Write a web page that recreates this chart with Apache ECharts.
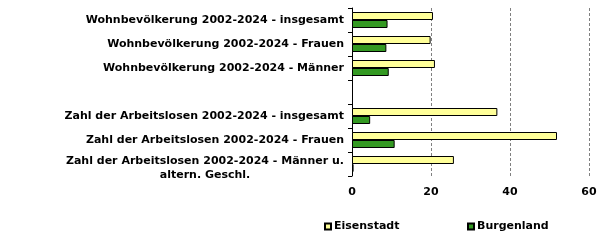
<!DOCTYPE html>
<html>
<head>
<meta charset="utf-8">
<script src="https://cdn.jsdelivr.net/npm/echarts@6/dist/echarts.min.js"></script>
<style>
html,body{margin:0;padding:0;background:#fff;}
#c{width:605px;height:244px;}
</style>
</head>
<body>
<div id="c"></div>
<script>
var categories = [
  'Wohnbevölkerung 2002-2024 - insgesamt',
  'Wohnbevölkerung 2002-2024 - Frauen',
  'Wohnbevölkerung 2002-2024 - Männer',
  '',
  'Zahl der Arbeitslosen 2002-2024 - insgesamt',
  'Zahl der Arbeitslosen 2002-2024 - Frauen',
  'Zahl der Arbeitslosen 2002-2024 - Männer u.\naltern. Geschl.'
];
var eisenstadt = [20.5, 19.9, 21.0, null, 36.8, 51.9, 25.8];
var burgenland = [9.0, 8.7, 9.3, null, 4.6, 10.8, 0.4];
var xTicks = {min: 0, max: 60, interval: 20};

var font = 'DejaVu Sans';
var catData = categories.map(function (c) {
  if (c.indexOf('\n') >= 0) {
    return {value: c, textStyle: {padding: [8, 0, 0, 0]}};
  }
  return c;
});
var chart = echarts.init(document.getElementById('c'), null, {renderer: 'canvas'});
chart.setOption({
  animation: false,
  backgroundColor: '#ffffff',
  textStyle: {fontFamily: font},
  grid: {left: 352, right: 16, top: 8, bottom: 68, containLabel: false},
  legend: [{
    data: ['Eisenstadt'], left: 319, top: 216, itemWidth: 6, itemHeight: 6, itemGap: 0,
    icon: 'rect', textStyle: {fontFamily: font, fontSize: 11, fontWeight: 'bold', color: '#000', padding: [0,0,0,-2]}
  }, {
    data: ['Burgenland'], left: 462, top: 216, itemWidth: 6, itemHeight: 6, itemGap: 0,
    icon: 'rect', textStyle: {fontFamily: font, fontSize: 11, fontWeight: 'bold', color: '#000', padding: [0,0,0,-2]}
  }],
  xAxis: {
    type: 'value', min: xTicks.min, max: xTicks.max, interval: xTicks.interval,
    axisLine: {show: false}, axisTick: {show: false},
    axisLabel: {margin: 11, fontFamily: font, fontSize: 11, fontWeight: 'bold', color: '#000'},
    splitLine: {show: true, lineStyle: {color: '#808080', type: [3, 2], width: 1}}
  },
  yAxis: {
    type: 'category', data: catData, inverse: true,
    axisLine: {show: true, lineStyle: {color: '#000', width: 1}},
    axisTick: {show: true, length: 4, inside: false, lineStyle: {color: '#000'}},
    axisLabel: {
      margin: 8, fontFamily: font, fontSize: 11, fontWeight: 'bold', color: '#000', interval: 0,
      lineHeight: 14,
      formatter: function (v) {
        return v.split('\n').map(function (s) { return '{a|' + s + '}'; }).join('\n');
      },
      rich: {a: {align: 'center', fontFamily: font, fontSize: 11, fontWeight: 'bold', color: '#000', lineHeight: 14}}
    },
    splitLine: {show: false}
  },
  series: [{
    name: 'Eisenstadt', type: 'bar', data: eisenstadt, barWidth: 8, barGap: '0%',
    itemStyle: {color: '#FFFF99', borderColor: '#000', borderWidth: 1}
  }, {
    name: 'Burgenland', type: 'bar', data: burgenland, barWidth: 8, barGap: '0%',
    itemStyle: {color: '#339922', borderColor: '#000', borderWidth: 1}
  }]
});
</script>
</body>
</html>
